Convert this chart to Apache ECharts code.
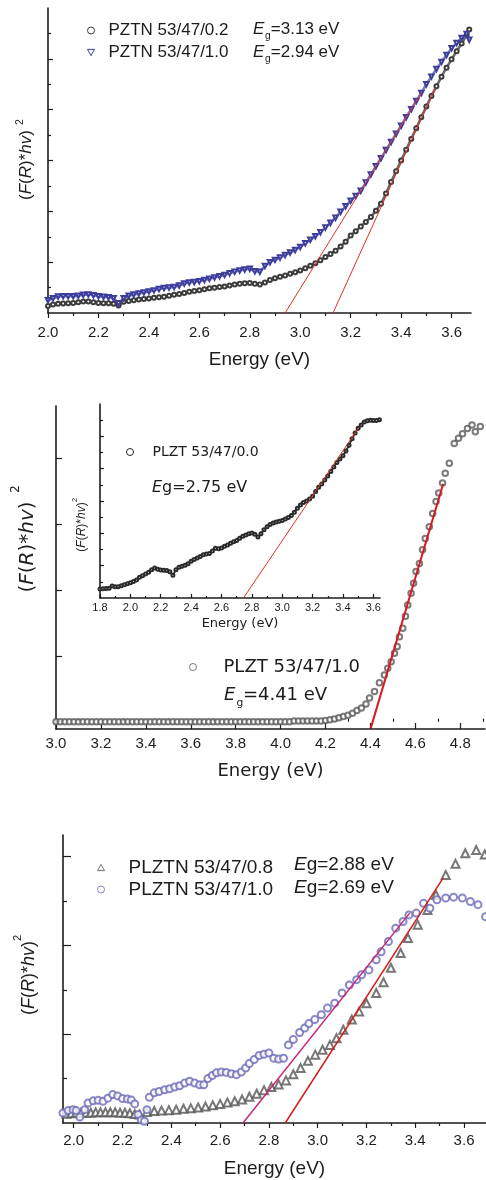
<!DOCTYPE html>
<html>
<head>
<meta charset="utf-8">
<script src="https://cdn.jsdelivr.net/npm/echarts@6/dist/echarts.min.js"></script>
<style>
  html, body { margin: 0; background: #fff; }
  #chart { width: 486px; height: 1180px; }
</style>
</head>
<body>
<div id="chart"></div>
<script>
// ---- panel 1: PZTN 53/47/x ----
const energy1 = [
  2.00,2.02,2.04,2.06,2.08,2.10,2.12,2.14,2.16,2.18,
  2.20,2.22,2.24,2.26,2.28,2.30,2.32,2.34,2.36,2.38,
  2.40,2.42,2.44,2.46,2.48,2.50,2.52,2.54,2.56,2.58,
  2.60,2.62,2.64,2.66,2.68,2.70,2.72,2.74,2.76,2.78,
  2.80,2.82,2.84,2.86,2.88,2.90,2.92,2.94,2.96,2.98,
  3.00,3.02,3.04,3.06,3.08,3.10,3.12,3.14,3.16,3.18,
  3.20,3.22,3.24,3.26,3.28,3.30,3.32,3.34,3.36,3.38,
  3.40,3.42,3.44,3.46,3.48,3.50,3.52,3.54,3.56,3.58,
  3.60,3.62,3.64,3.66,3.67
];
const pztn02 = [
  0.28,0.33,0.36,0.37,0.38,0.39,0.42,0.45,0.45,0.42,
  0.39,0.38,0.38,0.36,0.30,0.44,0.47,0.50,0.53,0.55,
  0.57,0.60,0.62,0.64,0.68,0.72,0.75,0.79,0.84,0.87,
  0.90,0.93,0.97,0.99,1.02,1.04,1.08,1.12,1.15,1.17,
  1.18,1.15,1.12,1.20,1.30,1.37,1.43,1.48,1.54,1.60,
  1.67,1.76,1.86,1.96,2.08,2.20,2.32,2.45,2.62,2.80,
  3.05,3.22,3.40,3.58,3.78,4.02,4.30,4.70,5.15,5.58,
  6.00,6.42,6.85,7.27,7.70,8.12,8.54,8.92,9.30,9.65,
  9.98,10.30,10.60,10.95,11.15
];
const pztn10 = [
  0.50,0.58,0.65,0.66,0.66,0.66,0.68,0.72,0.73,0.70,
  0.66,0.64,0.62,0.58,0.38,0.58,0.68,0.73,0.77,0.81,
  0.85,0.89,0.94,0.98,1.00,1.02,1.08,1.16,1.20,1.22,
  1.25,1.30,1.35,1.40,1.45,1.50,1.56,1.62,1.67,1.71,
  1.74,1.64,1.62,1.85,2.00,2.09,2.18,2.28,2.38,2.48,
  2.60,2.74,2.88,3.02,3.18,3.36,3.55,3.75,3.98,4.20,
  4.42,4.60,4.81,5.13,5.45,5.77,6.09,6.41,6.73,7.05,
  7.37,7.70,8.02,8.34,8.66,9.00,9.30,9.60,9.88,10.15,
  10.42,10.62,10.82,10.98,10.75
];
const fit02 = [[3.13, 0], [3.535, 8.86]];
const fit10 = [[2.94, 0], [3.482, 8.69]];
const xMajor1 = [2.0, 2.2, 2.4, 2.6, 2.8, 3.0, 3.2, 3.4, 3.6];
const xMinor1 = [2.1, 2.3, 2.5, 2.7, 2.9, 3.1, 3.3, 3.5];
const yMajor1 = [2, 4, 6, 8, 10];
const yMinor1 = [1, 3, 5, 7, 9, 11];

// ---- panel 2: PLZT 53/47/1.0 (main) ----
const energy2 = [
  3.00,3.02,3.04,3.06,3.08,3.10,3.12,3.14,3.16,3.18,
  3.20,3.22,3.24,3.26,3.28,3.30,3.32,3.34,3.36,3.38,
  3.40,3.42,3.44,3.46,3.48,3.50,3.52,3.54,3.56,3.58,
  3.60,3.62,3.64,3.66,3.68,3.70,3.72,3.74,3.76,3.78,
  3.80,3.82,3.84,3.86,3.88,3.90,3.92,3.94,3.96,3.98,
  4.00,4.02,4.04,4.06,4.08,4.10,4.12,4.14,4.16,4.18,
  4.20,4.22,4.24,4.26,4.28,4.30,4.32,4.34,4.36,4.38,
  4.396,4.418,4.44,4.462,4.477,4.492,4.507,4.519,4.529,4.544,
  4.556,4.566,4.581,4.592,4.603,4.618,4.632,4.644,4.662,4.677,
  4.692,4.704,4.721,4.733,4.751,4.773,4.792,4.810,4.832,4.852,
  4.867,4.889
];
const plzt10 = [
  0.00,0.00,0.00,0.00,0.00,0.00,0.00,0.00,0.00,0.00,
  0.00,0.00,0.00,0.00,0.00,0.00,0.00,0.00,0.00,0.00,
  0.00,0.00,0.00,0.00,0.00,0.00,0.00,0.00,0.00,0.00,
  0.00,0.00,0.00,0.00,0.00,0.00,0.00,0.00,0.00,0.00,
  0.00,0.00,0.00,0.00,0.00,0.00,0.00,0.00,0.00,0.00,
  0.00,0.00,0.00,0.01,0.01,0.01,0.01,0.01,0.01,0.01,
  0.02,0.03,0.04,0.06,0.08,0.10,0.13,0.17,0.21,0.27,
  0.36,0.46,0.59,0.71,0.81,0.91,1.04,1.14,1.29,1.42,
  1.60,1.77,1.95,2.10,2.28,2.40,2.61,2.78,2.96,3.16,
  3.34,3.47,3.62,3.77,3.92,4.22,4.30,4.37,4.45,4.50,
  4.40,4.48
];
const fit2 = [[4.401, -0.1], [4.724, 3.61]];
const xMajor2 = [3.0, 3.2, 3.4, 3.6, 3.8, 4.0, 4.2, 4.4, 4.6, 4.8];
const xMinor2 = [3.1, 3.3, 3.5, 3.7, 3.9, 4.1, 4.3, 4.5, 4.7, 4.9];
const yMajor2 = [0, 1, 2, 3, 4];

// ---- panel 2 inset: PLZT 53/47/0.0 ----
const energyIn = [
  1.80,1.82,1.84,1.86,1.88,1.90,1.92,1.94,1.96,1.98,
  2.00,2.02,2.04,2.06,2.08,2.10,2.12,2.14,2.16,2.18,
  2.20,2.22,2.24,2.26,2.28,2.30,2.32,2.34,2.36,2.38,
  2.40,2.42,2.44,2.46,2.48,2.50,2.52,2.54,2.56,2.58,
  2.60,2.62,2.64,2.66,2.68,2.70,2.72,2.74,2.76,2.78,
  2.80,2.82,2.84,2.86,2.88,2.90,2.92,2.94,2.96,2.98,
  3.00,3.02,3.04,3.06,3.08,3.10,3.12,3.14,3.16,3.18,
  3.20,3.22,3.24,3.26,3.28,3.30,3.32,3.34,3.36,3.38,
  3.40,3.42,3.44,3.46,3.48,3.50,3.52,3.54,3.56,3.58,
  3.60,3.62,3.64
];
const plzt00 = [
  0.56,0.57,0.58,0.60,0.75,0.70,0.70,0.76,0.82,0.88,
  0.95,1.02,1.12,1.28,1.38,1.48,1.60,1.75,1.85,1.78,
  1.73,1.72,1.70,1.62,1.40,1.75,1.90,1.97,2.03,2.12,
  2.28,2.38,2.47,2.57,2.67,2.72,2.75,2.90,3.08,3.04,
  3.10,3.20,3.28,3.38,3.48,3.55,3.70,3.82,3.90,3.98,
  4.02,3.95,3.78,3.98,4.22,4.40,4.55,4.64,4.70,4.75,
  4.80,4.88,4.98,5.10,5.30,5.55,5.75,5.90,6.00,6.12,
  6.30,6.58,6.85,7.05,7.30,7.55,7.82,8.10,8.38,8.60,
  8.80,9.10,9.45,9.85,10.20,10.50,10.70,10.88,10.97,11.00,
  10.98,10.98,11.02
];
const fitIn = [[2.745, 0], [3.50, 10.5]];
const xMajorIn = [1.8, 2.0, 2.2, 2.4, 2.6, 2.8, 3.0, 3.2, 3.4, 3.6];
const xMinorIn = [1.9, 2.1, 2.3, 2.5, 2.7, 2.9, 3.1, 3.3, 3.5];
const yMajorIn = [2, 4, 6, 8, 10];
const yMinorIn = [1, 3, 5, 7, 9, 11];

// ---- panel 3: PLZTN 53/47/x ----
const energyTri = [
  1.97,1.99,2.01,2.03,2.05,2.07,2.09,2.11,2.13,2.15,
  2.17,2.19,2.21,2.23,2.25,2.27,2.30,2.33,2.36,2.39,
  2.42,2.45,2.48,2.51,2.54,2.57,2.60,2.63,2.66,2.69,
  2.72,2.75,2.78,2.81,2.84,2.87,2.90,2.93,2.96,2.99,
  3.02,3.05,3.077,3.105,3.14,3.17,3.20,3.24,3.27,3.30,
  3.34,3.37,3.41,3.45,3.485,3.525,3.565,3.605,3.65,3.685
];
const plztn08 = [
  0.21,0.22,0.23,0.23,0.23,0.23,0.24,0.24,0.24,0.24,
  0.24,0.23,0.23,0.22,0.20,0.19,0.25,0.27,0.28,0.29,
  0.30,0.32,0.33,0.35,0.37,0.40,0.43,0.46,0.49,0.53,
  0.59,0.66,0.74,0.81,0.87,0.96,1.10,1.24,1.40,1.54,
  1.65,1.76,1.91,2.10,2.33,2.51,2.70,2.93,3.17,3.50,
  3.83,4.17,4.47,4.80,5.14,5.59,5.84,6.08,6.15,6.05
];
const energyCir = [
  1.956,1.977,1.997,2.010,2.025,2.045,2.059,2.080,2.100,2.120,
  2.140,2.160,2.180,2.200,2.220,2.236,2.250,2.264,2.277,2.290,
  2.300,2.310,2.330,2.350,2.373,2.393,2.414,2.434,2.455,2.475,
  2.496,2.516,2.533,2.550,2.568,2.585,2.605,2.625,2.646,2.667,
  2.687,2.705,2.720,2.740,2.760,2.780,2.800,2.820,2.840,2.860,
  2.880,2.900,2.926,2.947,2.964,2.988,3.015,3.040,3.070,3.100,
  3.130,3.160,3.180,3.210,3.240,3.260,3.290,3.320,3.350,3.374,
  3.404,3.434,3.460,3.489,3.525,3.557,3.593,3.626,3.657,3.688
];
const plztn10 = [
  0.225,0.28,0.30,0.28,0.135,0.30,0.45,0.50,0.51,0.49,
  0.56,0.64,0.61,0.55,0.54,0.52,0.43,0.19,0.07,0.04,
  0.30,0.58,0.68,0.71,0.75,0.77,0.81,0.84,0.90,0.94,
  0.90,0.86,0.86,1.00,1.07,1.13,1.15,1.14,1.11,1.09,
  1.15,1.24,1.34,1.43,1.52,1.55,1.58,1.46,1.44,1.46,
  1.76,1.88,2.04,2.14,2.24,2.33,2.44,2.59,2.70,2.93,
  3.11,3.23,3.34,3.45,3.68,3.86,4.09,4.39,4.54,4.69,
  4.73,4.95,4.84,5.03,5.07,5.09,5.07,4.99,4.92,4.65
];
const fit08 = [[2.867, 0], [3.514, 5.52]];
const fit10c = [[2.694, 0], [3.377, 4.73]];
const xMajor3 = [2.0, 2.2, 2.4, 2.6, 2.8, 3.0, 3.2, 3.4, 3.6];
const xMinor3 = [2.1, 2.3, 2.5, 2.7, 2.9, 3.1, 3.3, 3.5];
const yMajor3 = [2, 4, 6];
const yMinor3 = [1, 3, 5];

const SANS = "'Liberation Sans', Arial, sans-serif";
const WIDE = "'DejaVu Sans', sans-serif";
const INK = '#1c1c1c';
const GREY = '#3c3c3c';
const BLUE = '#3d3d9e';
const LILAC = '#6a6ab8';

const pairs = (xs, ys) => xs.map((x, i) => [x, ys[i]]);

// main axis (line, major ticks, labels) + a bare axis carrying the short ticks
function axisPair(dim, grid, min, max, major, minor, o) {
  const pos = dim === 'x' ? 'bottom' : 'left';
  const tickStyle = { color: INK, width: 1.2 };
  const main = {
    type: 'value', gridIndex: grid, min, max, position: pos,
    splitLine: { show: false },
    axisLine: { show: true, onZero: false, lineStyle: { color: INK, width: 1.6 } },
    axisTick: { show: true, inside: o.inside, length: o.len, customValues: major, lineStyle: tickStyle },
    axisLabel: o.fs
      ? { customValues: major, formatter: v => v.toFixed(1), margin: o.margin,
          fontSize: o.fs, fontFamily: SANS, color: INK }
      : { show: false }
  };
  if (o.name) {
    Object.assign(main, {
      name: o.name, nameLocation: 'middle', nameGap: o.nameGap,
      nameTextStyle: { fontSize: o.nameFs, fontFamily: o.nameFont || SANS, color: INK }
    });
  }
  const sub = {
    type: 'value', gridIndex: grid, min, max, position: pos,
    splitLine: { show: false }, axisLine: { show: false }, axisLabel: { show: false },
    axisTick: { show: true, inside: o.inside, length: o.minorLen, customValues: minor, lineStyle: tickStyle }
  };
  return [main, sub];
}

const xAxis = [
  ...axisPair('x', 0, 2.0, 3.677, xMajor1, xMinor1,
    { inside: false, len: 5, minorLen: 3, fs: 15, margin: 12, name: 'Energy (eV)', nameGap: 37, nameFs: 19 }),
  ...axisPair('x', 1, 3.0, 4.91, xMajor2, xMinor2,
    { inside: true, len: 6, minorLen: 3, fs: 15, margin: 7, name: 'Energy (eV)', nameGap: 33, nameFs: 18, nameFont: WIDE }),
  ...axisPair('x', 2, 1.8, 3.644, xMajorIn, xMinorIn,
    { inside: true, len: 4, minorLen: 2, fs: 11, margin: 4, name: 'Energy (eV)', nameGap: 19, nameFs: 13, nameFont: WIDE }),
  ...axisPair('x', 3, 1.956, 3.69, xMajor3, xMinor3,
    { inside: false, len: 5, minorLen: 3, fs: 15, margin: 10, name: 'Energy (eV)', nameGap: 36, nameFs: 19 })
];
const yAxis = [
  ...axisPair('y', 0, 0, 12, yMajor1, yMinor1, { inside: true, len: 5, minorLen: 3 }),
  ...axisPair('y', 1, -0.11, 4.79, yMajor2, [], { inside: true, len: 6, minorLen: 0 }),
  ...axisPair('y', 2, 0, 12, yMajorIn, yMinorIn, { inside: true, len: 4, minorLen: 3 }),
  ...axisPair('y', 3, 0, 6.49, yMajor3, yMinor3, { inside: true, len: 8, minorLen: 4 })
];

function points(name, axis, xs, ys, o) {
  return {
    name, type: o.line ? 'line' : 'scatter', xAxisIndex: axis, yAxisIndex: axis,
    data: pairs(xs, ys), symbol: o.symbol, symbolSize: o.size, symbolRotate: o.rotate || 0,
    itemStyle: { color: o.color, borderWidth: 1 },
    lineStyle: o.line ? { color: o.lineColor || o.color, width: o.line } : undefined,
    z: 3
  };
}
function fitLine(axis, data, color, width) {
  return {
    type: 'line', xAxisIndex: axis, yAxisIndex: axis, data, symbol: 'none', silent: true,
    lineStyle: { color, width }, z: 4
  };
}

const series = [
  points('PZTN 53/47/0.2', 0, energy1, pztn02, { symbol: 'emptyCircle', size: 4, color: GREY, line: 2.6, lineColor: '#6a6a6a' }),
  points('PZTN 53/47/1.0', 0, energy1, pztn10, { symbol: 'emptyTriangle', size: 4.5, rotate: 180, color: BLUE, line: 2.6, lineColor: '#7b7bc4' }),
  fitLine(0, fit02, '#e2302c', 1),
  fitLine(0, fit10, '#e2302c', 1),
  points('PLZT 53/47/1.0', 2, energy2, plzt10, { symbol: 'emptyCircle', size: 5.5, color: '#5a5a5a' }),
  fitLine(2, fit2, '#d61a1f', 2),
  points('PLZT 53/47/0.0', 4, energyIn, plzt00, { symbol: 'emptyCircle', size: 3, color: '#2a2a2a', line: 1.8 }),
  fitLine(4, fitIn, '#e2302c', 1),
  points('PLZTN 53/47/0.8', 6, energyTri, plztn08, { symbol: 'emptyTriangle', size: 8, color: '#555' }),
  points('PLZTN 53/47/1.0', 6, energyCir, plztn10, { symbol: 'emptyCircle', size: 7, color: LILAC }),
  fitLine(6, fit08, '#d41c1c', 1.5),
  fitLine(6, fit10c, '#c8287a', 1.5)
];

function legendBox(left, top, items, font, size, pad, gap) {
  return {
    orient: 'vertical', left, top, itemGap: gap, itemWidth: 7, itemHeight: 7,
    selectedMode: false, data: items,
    textStyle: { fontSize: size, fontFamily: font, color: INK, padding: [0, 0, 0, pad] }
  };
}
const hollow = c => ({ color: '#fff', borderColor: c, borderWidth: 1 });
const legend = [
  legendBox(82, 17, [
    { name: 'PZTN 53/47/0.2', icon: 'circle', itemStyle: hollow(GREY) },
    { name: 'PZTN 53/47/1.0', icon: 'path://M0,0L10,0L5,9Z', itemStyle: hollow(BLUE) }
  ], SANS, 17, 9, 5),
  legendBox(184, 653, [{ name: 'PLZT 53/47/1.0', icon: 'circle', itemStyle: hollow('#5a5a5a') }], WIDE, 18, 22, 5),
  legendBox(121, 440, [{ name: 'PLZT 53/47/0.0', icon: 'circle', itemStyle: hollow('#2a2a2a') }], WIDE, 14, 14, 5),
  legendBox(92, 853, [
    { name: 'PLZTN 53/47/0.8', icon: 'path://M5,0L10,9L0,9Z', itemStyle: hollow('#555') },
    { name: 'PLZTN 53/47/1.0', icon: 'circle', itemStyle: hollow(LILAC) }
  ], SANS, 19, 19, 3)
];

function text(x, y, str, size, font, extra) {
  return Object.assign({
    type: 'text', x, y, z: 10,
    style: Object.assign({
      text: str, fontSize: size, fontFamily: font, fill: INK,
      align: 'left', verticalAlign: 'middle', textAlign: 'left', textVerticalAlign: 'middle'
    }, extra && extra.style)
  }, extra && extra.el);
}
// E with subscript g, then the value
function gap(x, y, value, size, font) {
  return [
    text(x, y, 'E', size, font, { style: { fontStyle: 'italic' } }),
    text(x + size * 0.7, y + size * 0.45, 'g', size * 0.6, font),
    text(x + size * 1.05, y, value, size, font)
  ];
}
function yTitle(x, y, size, font, supX, supY) {
  return [
    text(x, y, '({i|F}({i|R})*{i|hv})', size, font, {
      el: { rotation: Math.PI / 2 },
      style: { align: 'center', textAlign: 'center',
               rich: { i: { fontStyle: 'italic', fontSize: size, fontFamily: font, fill: INK } } }
    }),
    text(supX, supY, '2', size * 0.62, font, {
      el: { rotation: Math.PI / 2 }, style: { align: 'center', textAlign: 'center' }
    })
  ];
}
const richEg = (size, font) => ({ rich: { i: { fontStyle: 'italic', fontSize: size, fontFamily: font, fill: INK } } });

const graphic = [
  ...gap(253, 29, '=3.13 eV', 17, SANS),
  ...gap(253, 52, '=2.94 eV', 17, SANS),
  ...gap(224, 695, '=4.41 eV', 18, WIDE),
  text(152, 488, '{i|E}g=2.75 eV', 16, WIDE, { style: richEg(16, WIDE) }),
  text(294, 865, '{i|E}g=2.88 eV', 19, SANS, { style: richEg(19, SANS) }),
  text(294, 888, '{i|E}g=2.69 eV', 19, SANS, { style: richEg(19, SANS) }),
  ...yTitle(26, 165, 17, SANS, 20, 122),
  ...yTitle(28, 547, 20, WIDE, 16, 489),
  ...yTitle(82, 527, 12, SANS, 75, 500),
  ...yTitle(29, 978, 18, SANS, 18, 938)
];

const chart = echarts.init(document.getElementById('chart'));
chart.setOption({
  animation: false,
  backgroundColor: '#fff',
  grid: [
    { left: 48, top: 8, width: 423, height: 305 },
    { left: 56, top: 406, width: 429, height: 323 },
    { left: 100, top: 404, width: 280, height: 194 },
    { left: 63, top: 835, width: 423, height: 288 }
  ],
  xAxis, yAxis, series, legend, graphic
});
</script>
</body>
</html>
